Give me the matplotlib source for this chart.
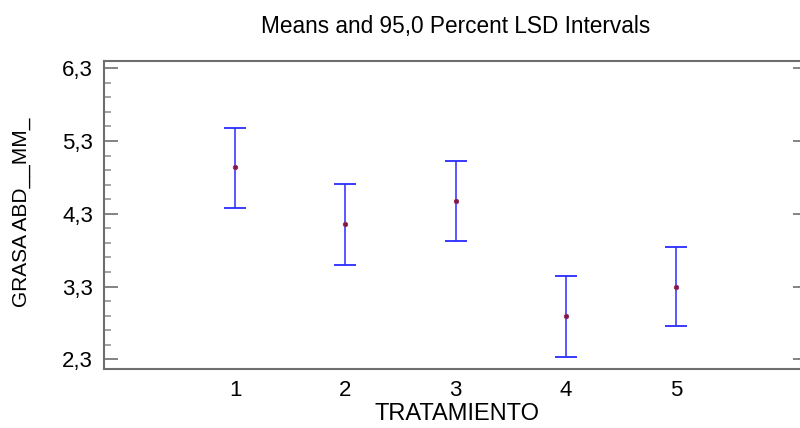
import matplotlib
matplotlib.use("Agg")
import matplotlib.pyplot as plt
from matplotlib.ticker import FixedLocator, FuncFormatter

plt.rcParams['font.family'] = ['Liberation Sans', 'DejaVu Sans']

treatments = [1, 2, 3, 4, 5]
means = [4.94, 4.16, 4.48, 2.90, 3.30]
lower = [4.375, 3.592, 3.92, 2.336, 2.758]
upper = [5.483, 4.714, 5.03, 3.44, 3.848]
yticks = [2.3, 3.3, 4.3, 5.3, 6.3]

title = "Means and 95,0 Percent LSD Intervals"
xlabel = "TRATAMIENTO"
ylabel = "GRASA ABD__MM_"

W, H = 800, 428
fig = plt.figure(figsize=(W / 100, H / 100), dpi=100)
ax = fig.add_axes([104 / W, 1 - 368.5 / H, (800 - 104) / W, (368.5 - 60.7) / H])

spine_col = '#6e6e6e'
blue = '#2a2aff'

yerr = [[m - l for m, l in zip(means, lower)], [u - m for u, m in zip(upper, means)]]
ax.errorbar(treatments, means, yerr=yerr, fmt='none', ecolor=blue, elinewidth=1.1,
            capsize=8, capthick=1.3, zorder=2)
ax.plot(treatments, means, 'o', ms=3.2, color='#7a1a4a', mec='#9a2a5a', mew=0.6, zorder=3)

ax.set_xlim(-0.188, 6.12)
ax.set_ylim(2.174, 6.404)

ax.set_xticks(treatments)
ax.set_xticklabels([str(t) for t in treatments])
ax.yaxis.set_major_locator(FixedLocator(yticks))
ax.yaxis.set_major_formatter(FuncFormatter(lambda v, p: f"{v:.1f}".replace('.', ',')))
ax.yaxis.set_minor_locator(FixedLocator([2.3 + 0.2 * i for i in range(21) if i % 5 != 0]))

ax.tick_params(axis='x', length=0, pad=8, labelsize=16, colors='black')
ax.tick_params(axis='y', which='major', direction='in', length=10, width=1.2,
               color=spine_col, pad=8, labelsize=16, labelcolor='black')
ax.tick_params(axis='y', which='minor', direction='in', length=5, width=1.1, color='#8a8a8a')

for s in ['left', 'top', 'bottom']:
    ax.spines[s].set_color(spine_col)
    ax.spines[s].set_linewidth(1.5)
ax.spines['right'].set_visible(False)

ax2 = ax.twinx()
ax2.set_ylim(ax.get_ylim())
ax2.yaxis.set_major_locator(FixedLocator(yticks))
ax2.tick_params(axis='y', direction='in', length=5, width=1.2, color=spine_col, labelright=False)
for s in ax2.spines.values():
    s.set_visible(False)

fig.text(455.5 / W, 1 - 27 / H, title, ha='center', va='center', fontsize=16.3)
ax.set_xlabel(xlabel, fontsize=17)
ax.xaxis.set_label_coords((457 - 104) / (800 - 104), -(413.5 - 368.5) / (368.5 - 60.7))
ax.xaxis.label.set_va('center')
ax.set_ylabel(ylabel, fontsize=15)
ax.yaxis.set_label_coords(-(104 - 22) / (800 - 104), (368.5 - 212) / (368.5 - 60.7))
ax.yaxis.label.set_va('center')

fig.savefig('out.png', dpi=100)
